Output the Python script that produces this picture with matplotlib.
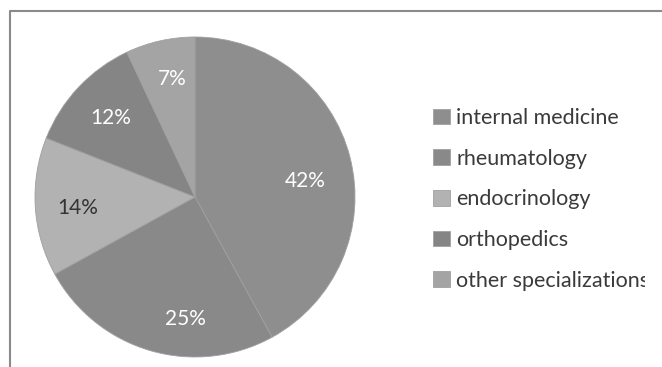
import matplotlib
matplotlib.use('Agg')
import matplotlib.pyplot as plt
from matplotlib.lines import Line2D
from matplotlib.transforms import Bbox, TransformedBbox

# Data
categories = ['internal medicine', 'rheumatology', 'endocrinology',
              'orthopedics', 'other specializations']
shares = [42, 25, 14, 12, 7]
colors = ['#8e8e8e', '#898989', '#b2b2b2', '#858585', '#a4a4a4']
label_colors = ['white', 'white', '#333333', 'white', 'white']

plt.rcParams['font.family'] = ['Lato', 'DejaVu Sans']

W, H = 662, 367
fig = plt.figure(figsize=(W / 100, H / 100), dpi=100)

# pie axes: centre (195, 197) px from top-left, radius ~160 px
r = 160
cx, cy = 195, 197
ax = fig.add_axes([(cx - r) / W, (H - cy - r) / H, 2 * r / W, 2 * r / H])
wedges, texts, autotexts = ax.pie(
    shares, colors=colors, startangle=90, counterclock=False,
    autopct='%d%%', pctdistance=0.72,
    wedgeprops=dict(edgecolor='#a0a0a0', linewidth=0.6),
    textprops=dict(fontsize=15))
for t, c in zip(autotexts, label_colors):
    t.set_color(c)
# excel-style "best fit" placement for some labels
autotexts[0].set_position((0.69, 0.10))
autotexts[1].set_position((-0.06, -0.76))
autotexts[2].set_position((-0.73, -0.07))
autotexts[4].set_position((-0.14, 0.74))
ax.set_xlim(-1, 1)
ax.set_ylim(-1, 1)

# legend
leg = fig.legend(wedges, categories, loc='upper left',
                 bbox_to_anchor=(433 / W, 1 - 108 / H),
                 frameon=False, fontsize=15.5, handlelength=0.8,
                 handleheight=0.75, handletextpad=0.28, labelspacing=0.96,
                 borderpad=0, borderaxespad=0)
# the last label is cut off at the right, like in the original
clip = TransformedBbox(Bbox([[0, 0], [645 / W, 1]]), fig.transFigure)
for t in leg.get_texts():
    t.set_color('#3a3a3a')
    t.set_clip_on(True)
    t.set_clip_box(clip)

# outer frame (only left and top edges visible)
fig.add_artist(Line2D([10 / W, 10 / W, 1], [0, 1 - 11 / H, 1 - 11 / H],
                      transform=fig.transFigure, color='#8a8a8a', lw=1.5))

plt.savefig('out.png', dpi=100)
